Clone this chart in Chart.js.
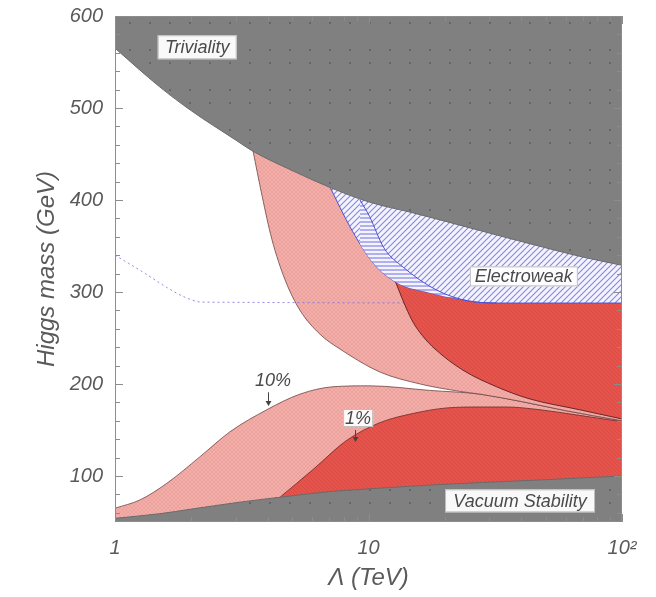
<!DOCTYPE html>
<html>
<head>
<meta charset="utf-8">
<script src="https://cdn.jsdelivr.net/npm/chart.js@4.4.0/dist/chart.umd.min.js"></script>
<style>
  html, body { margin: 0; padding: 0; background: #fff; }
</style>
</head>
<body>
<canvas id="higgsChart" width="656" height="597"></canvas>
<script>
// Lambda (TeV) / Higgs mass (GeV) boundaries
const lamTriv = [1, 1.5, 2, 3, 3.5, 5, 7, 10, 15, 20, 30, 50, 70, 100];
const mTriv   = [565, 523, 497, 465, 453, 432, 414, 398, 386, 377, 364, 348, 338, 329];

const lamVac = [1, 1.5, 2, 3, 4.5, 7, 10, 20, 50, 100];
const mVac   = [54, 59, 64, 71, 77, 83, 86, 91, 96, 100];

// 10% fine-tuning contours
const lam10lo = [1, 1.255, 1.6, 2.165, 2.84, 3.97, 5.37, 7.24, 10.1, 17.5, 27.5, 40, 60, 100];
const m10lo   = [65, 74, 92, 121, 148, 172, 189, 197, 198, 193, 189, 181, 171, 160];
const lam10hi = [3.5, 3.8, 4.16, 4.69, 5.37, 6.44, 7.72, 11.1, 16, 22.9, 27.5, 40, 60, 100];
const m10hi   = [454, 405, 357, 313, 280, 254, 238, 213, 200, 192, 189, 181, 171, 160];

// 1% fine-tuning contours
const lam1lo = [4.48, 6.04, 8.23, 11.1, 15, 20.4, 27.5, 35, 47.5, 64, 100];
const m1lo   = [77, 107, 139, 158, 168, 174, 175, 175, 172, 167, 159];
const lam1hi = [12.7, 13.3, 14.06, 15, 16.26, 18.3, 23.6, 32, 43, 68, 100];
const m1hi   = [313, 299, 283, 267, 253, 238, 215, 197, 184, 172, 162];

// electroweak constraint
const lamEw = [1, 1.3, 1.6, 1.9, 2.2, 100];
const mEw   = [340, 321, 305, 294, 289, 288];
const lamEwBand = [7.05, 8.45, 10.4, 12.95, 17.5, 22.9, 30, 100];
const mEwBand   = [414, 371, 332, 310, 299, 292, 288, 288];
const lamEwInner = [9.26, 10.1, 11.5, 13.7, 18.6, 25, 32];
const mEwInner   = [400, 382, 348, 327, 302, 290, 288];

const yTicks = [100, 200, 300, 400, 500, 600];
const xTicks = [1, 10, 100];
const xTickLabels = ['1', '10', '10\u00b2'];

const FONT = '"Liberation Sans", Arial, sans-serif';
const TXT = '#5a5a5a';

function pts(xs, ys) {
  return xs.map((x, i) => ({ x: x, y: ys[i] }));
}

function pattern(bg, stroke, size, kind, lw) {
  const c = document.createElement('canvas');
  c.width = size; c.height = size;
  const g = c.getContext('2d');
  g.fillStyle = bg;
  g.fillRect(0, 0, size, size);
  g.strokeStyle = stroke;
  g.lineWidth = lw || 1;
  g.beginPath();
  if (kind.indexOf('/') >= 0) {
    g.moveTo(-1, size + 1); g.lineTo(size + 1, -1);
    g.moveTo(-1, 1); g.lineTo(1, -1);
    g.moveTo(size - 1, size + 1); g.lineTo(size + 1, size - 1);
  }
  if (kind.indexOf('\\') >= 0) {
    g.moveTo(-1, -1); g.lineTo(size + 1, size + 1);
    g.moveTo(size - 1, -1); g.lineTo(size + 1, 1);
    g.moveTo(-1, size - 1); g.lineTo(1, size + 1);
  }
  if (kind.indexOf('-') >= 0) {
    g.moveTo(0, size / 2); g.lineTo(size, size / 2);
  }
  g.stroke();
  return g.createPattern(c, 'repeat');
}

// gray with the faint dotted grid seen in the excluded regions
function dotted(bg, dot) {
  const c = document.createElement('canvas');
  c.width = 20; c.height = 40;
  const g = c.getContext('2d');
  g.fillStyle = bg;
  g.fillRect(0, 0, 20, 40);
  g.fillStyle = dot;
  g.fillRect(9, 9, 2, 2);
  g.fillRect(9, 22, 2, 2);
  return g.createPattern(c, 'repeat');
}

const pinkFill = pattern('#f3afa9', 'rgba(214,110,104,0.35)', 4, '/\\', 0.6);
const redFill  = pattern('#e5544c', 'rgba(190,50,45,0.35)', 4, '\\', 0.7);
const blueDiag = pattern('#f4f4ff', '#8686e4', 6, '/', 1.1);
const blueHorz = pattern('#f4f4ff', '#8282e2', 4, '-', 1.2);
const grayFill = dotted('#808080', '#656565');

const base = { pointRadius: 0, borderWidth: 1, cubicInterpolationMode: 'monotone' };

const datasets = [
  { ...base, label: '10% lower', data: pts(lam10lo, m10lo), fill: 'start', backgroundColor: pinkFill, borderColor: 'rgba(110,70,70,0.8)', order: 20 },
  { ...base, label: '10% upper', data: pts(lam10hi, m10hi), fill: 'end', backgroundColor: pinkFill, borderColor: 'rgba(110,70,70,0.8)', order: 19 },
  { ...base, label: 'EW', data: pts(lamEw, mEw), fill: false, borderColor: 'rgba(120,110,230,0.8)', borderDash: [2, 3], order: 18 },
  { ...base, label: '1% lower', data: pts(lam1lo, m1lo), fill: 'start', backgroundColor: redFill, borderColor: 'rgba(110,40,40,0.8)', order: 17 },
  { ...base, label: '1% upper', data: pts(lam1hi, m1hi), fill: 'end', backgroundColor: redFill, borderColor: 'rgba(90,30,30,0.9)', order: 16 },
  { ...base, label: 'EW band', data: pts(lamEwBand, mEwBand), fill: 'end', backgroundColor: blueDiag, borderColor: '#5050d0', order: 15 },
  { ...base, label: 'EW inner', data: pts(lamEwInner, mEwInner), fill: 5, backgroundColor: blueHorz, borderColor: '#5050d0', order: 14 },
  { ...base, label: 'Triviality', data: pts(lamTriv, mTriv), fill: 'end', backgroundColor: grayFill, borderColor: '#6a6a6a', order: 13 },
  { ...base, label: 'Vacuum', data: pts(lamVac, mVac), fill: 'start', backgroundColor: grayFill, borderColor: '#6a6a6a', order: 12 }
];

// inward tick marks and the frame
const frameTicks = {
  id: 'frameTicks',
  afterDraw(chart) {
    const { ctx, chartArea: a, scales: { x, y } } = chart;
    ctx.save();
    ctx.strokeStyle = '#8c8c8c';
    ctx.lineWidth = 1;
    ctx.strokeRect(a.left + 0.5, a.top + 0.5, a.width - 1, a.height - 1);
    ctx.beginPath();
    for (let d = 1; d <= 100; d *= 10) {
      for (let k = 1; k < 10; k++) {
        const v = d * k;
        if (v > 100) break;
        const px = Math.round(x.getPixelForValue(v)) + 0.5;
        const len = k === 1 ? 8 : 5;
        ctx.moveTo(px, a.bottom); ctx.lineTo(px, a.bottom - len);
        ctx.moveTo(px, a.top); ctx.lineTo(px, a.top + len);
      }
    }
    for (let v = 60; v <= 600; v += 20) {
      const py = Math.round(y.getPixelForValue(v)) + 0.5;
      const len = v % 100 === 0 ? 8 : 5;
      ctx.moveTo(a.left, py); ctx.lineTo(a.left + len, py);
      ctx.moveTo(a.right, py); ctx.lineTo(a.right - len, py);
    }
    ctx.stroke();
    ctx.restore();
  }
};

// text labels inside the plot
const notes = {
  id: 'notes',
  afterDatasetsDraw(chart) {
    const { ctx, scales: { x, y } } = chart;
    ctx.save();
    ctx.font = 'italic 18px ' + FONT;
    ctx.textAlign = 'center';
    ctx.textBaseline = 'middle';
    const label = (txt, lam, m, w, h, boxed) => {
      const cx = x.getPixelForValue(lam), cy = y.getPixelForValue(m);
      if (boxed) {
        ctx.fillStyle = 'rgba(255,255,255,0.95)';
        ctx.fillRect(cx - w / 2, cy - h / 2, w, h);
        ctx.strokeStyle = '#bdbdbd';
        ctx.strokeRect(cx - w / 2 + 0.5, cy - h / 2 + 0.5, w - 1, h - 1);
      }
      ctx.fillStyle = '#4a4a4a';
      ctx.fillText(txt, cx, cy + 1);
    };
    const arrow = (lam, m0, m1) => {
      const px = Math.round(x.getPixelForValue(lam)) + 0.5;
      const y0 = y.getPixelForValue(m0), y1 = y.getPixelForValue(m1);
      ctx.strokeStyle = '#444';
      ctx.fillStyle = '#444';
      ctx.lineWidth = 1;
      ctx.beginPath(); ctx.moveTo(px, y0); ctx.lineTo(px, y1 - 4); ctx.stroke();
      ctx.beginPath(); ctx.moveTo(px - 3, y1 - 5); ctx.lineTo(px + 3, y1 - 5); ctx.lineTo(px, y1); ctx.closePath(); ctx.fill();
    };
    label('Triviality', 2.11, 566, 79, 24, true);
    label('Electroweak', 41, 317, 108, 20, true);
    label('Vacuum Stability', 39.6, 73, 150, 23, true);
    label('10%', 4.2, 204, 40, 20, false);
    arrow(4.02, 191, 176);
    label('1%', 9.1, 163, 30, 18, true);
    arrow(8.85, 150, 137);
    ctx.restore();
  }
};

new Chart(document.getElementById('higgsChart'), {
  type: 'line',
  data: { datasets: datasets },
  options: {
    responsive: false,
    animation: false,
    devicePixelRatio: 1,
    layout: { padding: { top: 16, right: 34, left: 0, bottom: 0 } },
    plugins: {
      legend: { display: false },
      tooltip: { enabled: false }
    },
    scales: {
      x: {
        type: 'logarithmic',
        min: 1,
        max: 100,
        afterBuildTicks: s => { s.ticks = xTicks.map(v => ({ value: v })); },
        afterFit: s => { s.height = 75; s.paddingLeft = 0; s.paddingRight = 0; },
        grid: { drawOnChartArea: false, drawTicks: false },
        border: { display: false },
        ticks: {
          autoSkip: false,
          maxRotation: 0,
          padding: 14,
          color: TXT,
          font: { size: 20, style: 'italic', family: FONT },
          callback: (v, i) => xTickLabels[i]
        },
        title: {
          display: true,
          text: '\u039b (TeV)',
          color: TXT,
          font: { size: 24, style: 'italic', family: FONT },
          padding: { top: 0, bottom: 4 }
        }
      },
      y: {
        min: 50,
        max: 600,
        afterBuildTicks: s => { s.ticks = yTicks.map(v => ({ value: v })); },
        afterFit: s => { s.width = 115; s.paddingTop = 0; s.paddingBottom = 0; },
        grid: { drawOnChartArea: false, drawTicks: false },
        border: { display: false },
        ticks: {
          padding: 12,
          color: TXT,
          font: { size: 20, style: 'italic', family: FONT }
        },
        title: {
          display: true,
          text: 'Higgs mass (GeV)',
          color: TXT,
          font: { size: 24, style: 'italic', family: FONT },
          padding: { top: 33, bottom: 0 }
        }
      }
    }
  },
  plugins: [notes, frameTicks]
});
</script>
</body>
</html>
